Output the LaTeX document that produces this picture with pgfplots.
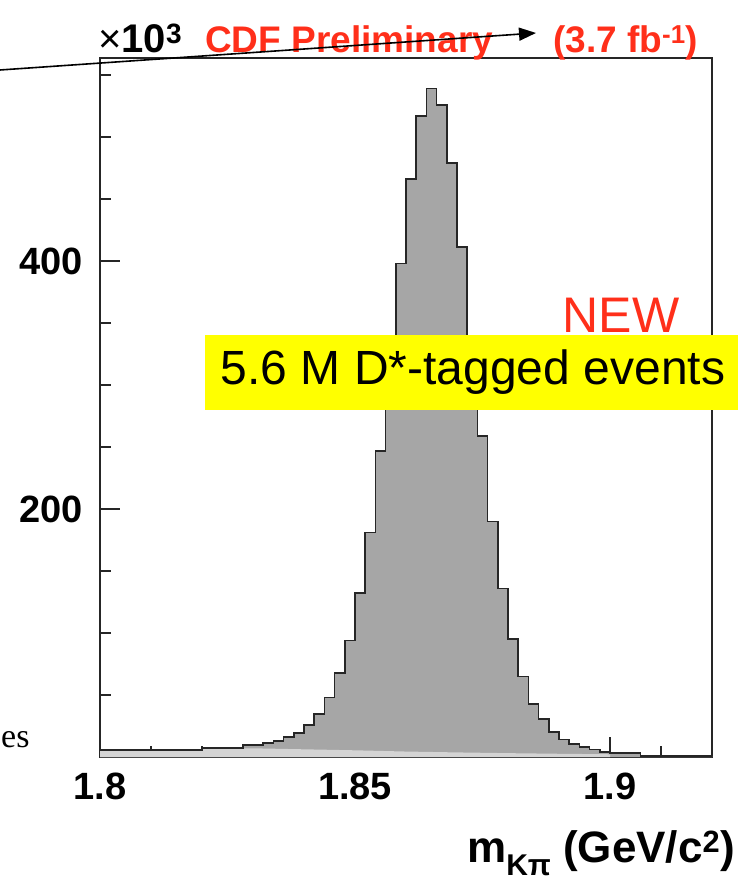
\documentclass[border=0pt]{standalone}
\usepackage{pgfplots}
\pgfplotsset{compat=1.18}
\usepackage{fontspec}
\setmainfont{Liberation Sans}
\newfontfamily\serifold{Liberation Serif}
\usetikzlibrary{arrows.meta}
\definecolor{histgrey}{HTML}{A6A6A6}
\definecolor{bggrey}{HTML}{D4D4D4}
\definecolor{cdfred}{HTML}{FF2F1A}
\definecolor{hlyellow}{HTML}{FFFF00}
\pgfplotstableread{
x y
1.800 5.6
1.802 5.6
1.804 5.6
1.806 5.6
1.808 5.6
1.810 5.6
1.812 5.6
1.814 5.6
1.816 5.6
1.818 5.6
1.820 7.3
1.822 7.3
1.824 7.3
1.826 7.3
1.828 9.5
1.830 9.5
1.832 11.5
1.834 13
1.836 16
1.838 19.5
1.840 26
1.842 34.5
1.844 48
1.846 67.5
1.848 94
1.850 132
1.852 181
1.854 247
1.856 320
1.858 398
1.860 466
1.862 517
1.864 539
1.866 526
1.868 479
1.870 411
1.872 330
1.874 259
1.876 190
1.878 136
1.880 95
1.882 65
1.884 43
1.886 30.5
1.888 20
1.890 14
1.892 10.5
1.894 8
1.896 6
1.898 4.2
1.900 3
1.902 3
1.904 3
1.906 1
1.908 1
1.910 1
1.912 1
1.914 1
1.916 1
1.918 1
1.920 1
}\histdata
\begin{document}
\begin{tikzpicture}[x=1pt,y=1pt]
\useasboundingbox (-100,-125) rectangle (637,757);
\begin{axis}[
  at={(0,0)}, anchor=south west,
  width=612pt, height=699pt, scale only axis,
  xmin=1.8, xmax=1.92, ymin=0, ymax=563.7,
  axis line style={line width=1.3pt, black!85},
  tick style={line width=1.3pt, black!85},
  major tick length=20pt, minor tick length=11pt,
  tick align=inside, tick pos=left,
  xtick={1.8,1.85,1.9}, xticklabels={1.8,1.85,1.9},
  minor xtick={1.81,1.82,1.83,1.84,1.86,1.87,1.88,1.89,1.91},
  ytick={200,400}, yticklabels={200,400},
  minor ytick={50,100,150,250,300,350,450,500,550},
  /pgf/number format/assume math mode=true,
  tick label style={font=\fontsize{38}{44}\selectfont\bfseries, inner sep=0pt},
  xticklabel style={anchor=north, yshift=-16pt},
  yticklabel style={anchor=east, xshift=-17pt},
  scaled y ticks=false,
]
\addplot[const plot mark left, fill=histgrey, draw=none] table {\histdata} \closedcycle;
\addplot[fill=bggrey, draw=none] coordinates {
(1.800,5.6) (1.820,5.6) (1.820,7.0) (1.830,7.0) (1.840,6.2) (1.850,5.4)
(1.860,4.4) (1.870,3.7) (1.880,3.1) (1.890,2.6) (1.900,2.2) (1.900,0)
} \closedcycle;
\addplot[const plot mark left, draw=black!85, line width=1.7pt] table {\histdata};
\end{axis}
% annotations (1pt = 1px of the reference, origin at lower-left of frame)
\fill[hlyellow] (105,347) rectangle (660,422);
\node[font=\fontsize{48}{56}\selectfont, inner sep=0pt] at (373,384.5) {5.6 M D*-tagged events};
\node[font=\fontsize{50}{58}\selectfont, text=cdfred, inner sep=0pt] at (521,442) {NEW};
\node[font=\fontsize{40}{46}\selectfont\bfseries, anchor=base west, inner sep=0pt] at (-2,704)
  {{\mdseries ×}10\textsuperscript{3}};
\node[font=\fontsize{37}{43}\selectfont\bfseries, text=cdfred, anchor=base west, inner sep=0pt] at (105,704)
  {CDF Preliminary};
\node[font=\fontsize{37}{43}\selectfont\bfseries, text=cdfred, anchor=base west, inner sep=0pt] at (453,704)
  {(3.7 fb\textsuperscript{-1})};
\draw[line width=1.6pt, -{Triangle[length=17pt,width=13pt]}] (-100,687) -- (436,724);
\node[font=\fontsize{44}{52}\selectfont\bfseries, anchor=base east, inner sep=0pt] at (635,-105)
  {m\raisebox{-0.3em}{\fontsize{30}{36}\selectfont Kπ} (GeV/c\textsuperscript{2})};
\node[font=\serifold\fontsize{34}{40}\selectfont, anchor=base west, inner sep=0pt] at (-99,9) {es};
\end{tikzpicture}
\end{document}
